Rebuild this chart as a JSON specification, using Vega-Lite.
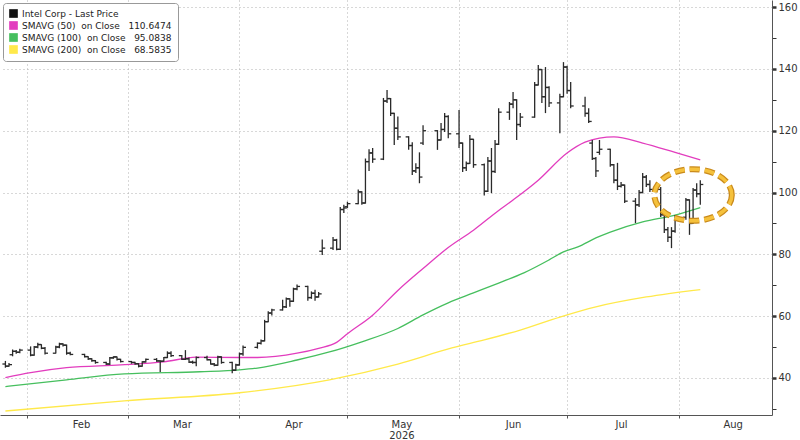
{
  "$schema": "https://vega.github.io/schema/vega-lite/v6.json",
  "description": "Intel Corp daily price bars with 50, 100 and 200 day moving averages, 2026",
  "width": 772,
  "height": 415,
  "autosize": "none",
  "padding": {"left": 0, "top": 0, "right": 28, "bottom": 25},
  "background": "white",
  "config": {
    "view": {"stroke": null},
    "font": "DejaVu Sans"
  },
  "datasets": {
    "ohlc": [
      {"date": "2026-01-26", "open": 44.5, "high": 45.5, "low": 43.3, "close": 43.8},
      {"date": "2026-01-27", "open": 43.8, "high": 44.8, "low": 43.6, "close": 44.3},
      {"date": "2026-01-28", "open": 47.5, "high": 49.2, "low": 47.0, "close": 48.6},
      {"date": "2026-01-29", "open": 48.6, "high": 49.0, "low": 47.8, "close": 48.3},
      {"date": "2026-01-30", "open": 48.3, "high": 49.4, "low": 48.0, "close": 49.0},
      {"date": "2026-02-02", "open": 49.0, "high": 50.2, "low": 47.0, "close": 47.4},
      {"date": "2026-02-03", "open": 47.4, "high": 50.3, "low": 47.2, "close": 50.0},
      {"date": "2026-02-04", "open": 50.0, "high": 51.4, "low": 49.6, "close": 50.8},
      {"date": "2026-02-05", "open": 50.8, "high": 50.9, "low": 49.3, "close": 49.6},
      {"date": "2026-02-06", "open": 49.6, "high": 50.0, "low": 47.6, "close": 48.0},
      {"date": "2026-02-09", "open": 48.0, "high": 50.4, "low": 47.9, "close": 50.0},
      {"date": "2026-02-10", "open": 50.0, "high": 51.4, "low": 49.6, "close": 51.0},
      {"date": "2026-02-11", "open": 51.0, "high": 51.2, "low": 50.2, "close": 50.6},
      {"date": "2026-02-12", "open": 50.6, "high": 50.8, "low": 47.5, "close": 48.0},
      {"date": "2026-02-13", "open": 48.0, "high": 48.5, "low": 47.3, "close": 47.6},
      {"date": "2026-02-17", "open": 47.6, "high": 47.8, "low": 46.6, "close": 46.9},
      {"date": "2026-02-18", "open": 46.9, "high": 47.0, "low": 45.8, "close": 46.2},
      {"date": "2026-02-19", "open": 46.2, "high": 46.4, "low": 45.2, "close": 45.6},
      {"date": "2026-02-20", "open": 45.6, "high": 45.8, "low": 44.6, "close": 45.0},
      {"date": "2026-02-23", "open": 45.0, "high": 45.2, "low": 44.2, "close": 44.5},
      {"date": "2026-02-24", "open": 44.5, "high": 46.8, "low": 44.2, "close": 46.5},
      {"date": "2026-02-25", "open": 46.5, "high": 47.0, "low": 46.2, "close": 46.8},
      {"date": "2026-02-26", "open": 46.8, "high": 46.9, "low": 45.6, "close": 46.0},
      {"date": "2026-02-27", "open": 46.0, "high": 46.2, "low": 45.0, "close": 45.3},
      {"date": "2026-03-02", "open": 45.3, "high": 45.5, "low": 44.6, "close": 45.0},
      {"date": "2026-03-03", "open": 45.0, "high": 45.2, "low": 44.3, "close": 44.6},
      {"date": "2026-03-04", "open": 44.6, "high": 44.8, "low": 43.4, "close": 43.8},
      {"date": "2026-03-05", "open": 43.8, "high": 45.4, "low": 43.6, "close": 45.2},
      {"date": "2026-03-06", "open": 45.2, "high": 46.3, "low": 45.0, "close": 46.0},
      {"date": "2026-03-09", "open": 46.0, "high": 46.4, "low": 45.2, "close": 45.5},
      {"date": "2026-03-10", "open": 45.5, "high": 45.7, "low": 41.9, "close": 45.4},
      {"date": "2026-03-11", "open": 45.4, "high": 46.8, "low": 45.2, "close": 46.6},
      {"date": "2026-03-12", "open": 46.6, "high": 48.6, "low": 46.4, "close": 48.0},
      {"date": "2026-03-13", "open": 48.0, "high": 48.6, "low": 46.8, "close": 47.2},
      {"date": "2026-03-16", "open": 47.2, "high": 47.4, "low": 45.8, "close": 46.0},
      {"date": "2026-03-17", "open": 46.0, "high": 49.0, "low": 45.8, "close": 46.2},
      {"date": "2026-03-18", "open": 46.2, "high": 46.6, "low": 44.8, "close": 45.1},
      {"date": "2026-03-19", "open": 45.1, "high": 45.6, "low": 44.6, "close": 45.0},
      {"date": "2026-03-20", "open": 45.0, "high": 46.9, "low": 43.8, "close": 46.6},
      {"date": "2026-03-23", "open": 46.6, "high": 47.2, "low": 45.6, "close": 45.9},
      {"date": "2026-03-24", "open": 45.9, "high": 46.0, "low": 44.3, "close": 44.5},
      {"date": "2026-03-25", "open": 44.5, "high": 44.8, "low": 43.8, "close": 44.1},
      {"date": "2026-03-26", "open": 44.1, "high": 47.2, "low": 43.9, "close": 46.8},
      {"date": "2026-03-27", "open": 46.8, "high": 47.0, "low": 44.6, "close": 45.0},
      {"date": "2026-03-30", "open": 45.0, "high": 45.2, "low": 41.5, "close": 42.5},
      {"date": "2026-03-31", "open": 42.5, "high": 44.6, "low": 42.3, "close": 44.2},
      {"date": "2026-04-01", "open": 44.2, "high": 48.2, "low": 44.0, "close": 47.8},
      {"date": "2026-04-02", "open": 47.8, "high": 50.5, "low": 47.2, "close": 49.9},
      {"date": "2026-04-06", "open": 49.9, "high": 51.5, "low": 49.5, "close": 51.2},
      {"date": "2026-04-07", "open": 51.2, "high": 52.4, "low": 50.8, "close": 52.0},
      {"date": "2026-04-08", "open": 52.0, "high": 58.8, "low": 51.8, "close": 58.2},
      {"date": "2026-04-09", "open": 58.2, "high": 61.6, "low": 58.0, "close": 61.0},
      {"date": "2026-04-10", "open": 61.0, "high": 62.4, "low": 60.2, "close": 62.0},
      {"date": "2026-04-13", "open": 62.0, "high": 65.3, "low": 61.8, "close": 63.0},
      {"date": "2026-04-14", "open": 63.0, "high": 66.0, "low": 62.6, "close": 65.6},
      {"date": "2026-04-15", "open": 65.6, "high": 65.8, "low": 63.0, "close": 64.8},
      {"date": "2026-04-16", "open": 64.8, "high": 69.2, "low": 64.6, "close": 68.8},
      {"date": "2026-04-17", "open": 68.8, "high": 70.2, "low": 68.4, "close": 69.6},
      {"date": "2026-04-20", "open": 69.6, "high": 69.8, "low": 65.0, "close": 66.0},
      {"date": "2026-04-21", "open": 66.0, "high": 68.0, "low": 65.6, "close": 67.4},
      {"date": "2026-04-22", "open": 67.4, "high": 68.5, "low": 65.0, "close": 66.2},
      {"date": "2026-04-23", "open": 66.2, "high": 67.8, "low": 66.0, "close": 67.2},
      {"date": "2026-04-24", "open": 81.0, "high": 84.8, "low": 79.8, "close": 82.0},
      {"date": "2026-04-27", "open": 82.0, "high": 85.6, "low": 81.4, "close": 84.6},
      {"date": "2026-04-28", "open": 84.6, "high": 85.0, "low": 81.3, "close": 81.6},
      {"date": "2026-04-29", "open": 81.6, "high": 95.3, "low": 81.4, "close": 94.5},
      {"date": "2026-04-30", "open": 94.5, "high": 96.0, "low": 93.4, "close": 95.0},
      {"date": "2026-05-01", "open": 95.4, "high": 97.0, "low": 95.0, "close": 96.4},
      {"date": "2026-05-04", "open": 96.4, "high": 101.0, "low": 96.2, "close": 100.2},
      {"date": "2026-05-05", "open": 100.2, "high": 100.4, "low": 96.0, "close": 96.6},
      {"date": "2026-05-06", "open": 96.6, "high": 111.0, "low": 96.4, "close": 110.0},
      {"date": "2026-05-07", "open": 110.0, "high": 114.0, "low": 107.0, "close": 112.8},
      {"date": "2026-05-08", "open": 112.8, "high": 114.4, "low": 109.6, "close": 110.8},
      {"date": "2026-05-11", "open": 110.8, "high": 130.6, "low": 110.5, "close": 129.6},
      {"date": "2026-05-12", "open": 129.6, "high": 133.2, "low": 129.0, "close": 130.4},
      {"date": "2026-05-13", "open": 130.4, "high": 130.6, "low": 124.8, "close": 125.6},
      {"date": "2026-05-14", "open": 125.6, "high": 125.8, "low": 115.4, "close": 120.8},
      {"date": "2026-05-15", "open": 120.8, "high": 124.6, "low": 117.0, "close": 118.0},
      {"date": "2026-05-18", "open": 118.0, "high": 118.2, "low": 113.8, "close": 115.2},
      {"date": "2026-05-19", "open": 115.2, "high": 116.3, "low": 105.7, "close": 107.0},
      {"date": "2026-05-20", "open": 107.0, "high": 109.5, "low": 106.3, "close": 108.0},
      {"date": "2026-05-21", "open": 108.0, "high": 113.0, "low": 103.0, "close": 105.0},
      {"date": "2026-05-22", "open": 116.0, "high": 121.8, "low": 115.4, "close": 120.0},
      {"date": "2026-05-26", "open": 120.0, "high": 120.2, "low": 113.8, "close": 117.0},
      {"date": "2026-05-27", "open": 117.0, "high": 122.5, "low": 116.8, "close": 120.4},
      {"date": "2026-05-28", "open": 120.4, "high": 125.7, "low": 119.6, "close": 124.6},
      {"date": "2026-05-29", "open": 124.6, "high": 125.0, "low": 117.6, "close": 119.0},
      {"date": "2026-06-01", "open": 119.0, "high": 126.7, "low": 114.4, "close": 116.0},
      {"date": "2026-06-02", "open": 116.0, "high": 116.2, "low": 106.6, "close": 108.0},
      {"date": "2026-06-03", "open": 108.0, "high": 110.0, "low": 107.0, "close": 109.4},
      {"date": "2026-06-04", "open": 109.4, "high": 118.6, "low": 109.2, "close": 117.2},
      {"date": "2026-06-05", "open": 117.2, "high": 117.4, "low": 108.0, "close": 109.0},
      {"date": "2026-06-08", "open": 109.0, "high": 109.4, "low": 99.0, "close": 100.4},
      {"date": "2026-06-09", "open": 100.4, "high": 111.5, "low": 100.2, "close": 110.2},
      {"date": "2026-06-10", "open": 110.2, "high": 114.4, "low": 99.8, "close": 106.8},
      {"date": "2026-06-11", "open": 106.8, "high": 117.0, "low": 106.3, "close": 115.6},
      {"date": "2026-06-12", "open": 115.6, "high": 127.3, "low": 115.4, "close": 126.0},
      {"date": "2026-06-15", "open": 126.0, "high": 129.3, "low": 123.5, "close": 128.6},
      {"date": "2026-06-16", "open": 128.6, "high": 132.5, "low": 127.3, "close": 130.0},
      {"date": "2026-06-17", "open": 130.0, "high": 130.2, "low": 117.0, "close": 122.0},
      {"date": "2026-06-18", "open": 122.0, "high": 125.7, "low": 121.2, "close": 124.4},
      {"date": "2026-06-22", "open": 124.4, "high": 135.8, "low": 124.2, "close": 134.8},
      {"date": "2026-06-23", "open": 134.8, "high": 141.3, "low": 134.6, "close": 139.8},
      {"date": "2026-06-24", "open": 139.8, "high": 140.0, "low": 129.0, "close": 131.0},
      {"date": "2026-06-25", "open": 131.0, "high": 140.6, "low": 125.7, "close": 134.0},
      {"date": "2026-06-26", "open": 134.0, "high": 134.4, "low": 127.7, "close": 129.0},
      {"date": "2026-06-29", "open": 129.0, "high": 132.0, "low": 119.2, "close": 131.0},
      {"date": "2026-06-30", "open": 131.0, "high": 142.2, "low": 130.8, "close": 140.6},
      {"date": "2026-07-01", "open": 140.6, "high": 141.0, "low": 132.0, "close": 133.0},
      {"date": "2026-07-02", "open": 133.0, "high": 135.8, "low": 127.3, "close": 128.0},
      {"date": "2026-07-06", "open": 128.0, "high": 131.0, "low": 124.5, "close": 125.6},
      {"date": "2026-07-07", "open": 125.6, "high": 127.3, "low": 122.5, "close": 123.0},
      {"date": "2026-07-08", "open": 116.0, "high": 117.0, "low": 110.5, "close": 111.0},
      {"date": "2026-07-09", "open": 111.0, "high": 111.5, "low": 105.0, "close": 107.0},
      {"date": "2026-07-10", "open": 113.0, "high": 117.0, "low": 112.2, "close": 114.0},
      {"date": "2026-07-13", "open": 114.0, "high": 114.2, "low": 108.3, "close": 109.0},
      {"date": "2026-07-14", "open": 109.0, "high": 109.2, "low": 103.0, "close": 104.0},
      {"date": "2026-07-15", "open": 104.0, "high": 109.6, "low": 100.8, "close": 102.0},
      {"date": "2026-07-16", "open": 102.0, "high": 103.4, "low": 101.6, "close": 102.4},
      {"date": "2026-07-17", "open": 102.4, "high": 102.6, "low": 96.6, "close": 97.2},
      {"date": "2026-07-20", "open": 97.2, "high": 98.2, "low": 90.1, "close": 96.0},
      {"date": "2026-07-21", "open": 96.0, "high": 100.8, "low": 95.3, "close": 100.0},
      {"date": "2026-07-22", "open": 100.0, "high": 106.3, "low": 99.8, "close": 105.0},
      {"date": "2026-07-23", "open": 105.0, "high": 105.7, "low": 101.8, "close": 102.6},
      {"date": "2026-07-24", "open": 102.6, "high": 104.0, "low": 100.2, "close": 101.0},
      {"date": "2026-07-27", "open": 101.0, "high": 101.8, "low": 92.1, "close": 92.8},
      {"date": "2026-07-28", "open": 92.8, "high": 93.4, "low": 86.9, "close": 88.0},
      {"date": "2026-07-29", "open": 88.0, "high": 88.8, "low": 84.0, "close": 85.5},
      {"date": "2026-07-30", "open": 85.5, "high": 88.8, "low": 82.0, "close": 87.5},
      {"date": "2026-07-31", "open": 87.5, "high": 92.7, "low": 87.0, "close": 92.0},
      {"date": "2026-08-03", "open": 92.0, "high": 98.2, "low": 91.2, "close": 97.6},
      {"date": "2026-08-04", "open": 97.6, "high": 97.8, "low": 86.3, "close": 90.0},
      {"date": "2026-08-05", "open": 90.0, "high": 101.5, "low": 89.8, "close": 100.8},
      {"date": "2026-08-06", "open": 100.8, "high": 103.0, "low": 98.5, "close": 99.6},
      {"date": "2026-08-07", "open": 99.6, "high": 104.0, "low": 96.0, "close": 102.6}
    ],
    "averages": [
      {"date": "2026-01-26", "series": "SMA50", "value": 40.1},
      {"date": "2026-02-02", "series": "SMA50", "value": 41.7},
      {"date": "2026-02-12", "series": "SMA50", "value": 43.3},
      {"date": "2026-02-27", "series": "SMA50", "value": 44.2},
      {"date": "2026-03-11", "series": "SMA50", "value": 45.2},
      {"date": "2026-03-20", "series": "SMA50", "value": 46.7},
      {"date": "2026-04-01", "series": "SMA50", "value": 46.6},
      {"date": "2026-04-06", "series": "SMA50", "value": 46.6},
      {"date": "2026-04-17", "series": "SMA50", "value": 48.0},
      {"date": "2026-04-23", "series": "SMA50", "value": 49.6},
      {"date": "2026-04-28", "series": "SMA50", "value": 51.5},
      {"date": "2026-05-01", "series": "SMA50", "value": 54.3},
      {"date": "2026-05-08", "series": "SMA50", "value": 60.3},
      {"date": "2026-05-15", "series": "SMA50", "value": 68.3},
      {"date": "2026-05-22", "series": "SMA50", "value": 75.4},
      {"date": "2026-05-29", "series": "SMA50", "value": 82.2},
      {"date": "2026-06-05", "series": "SMA50", "value": 87.8},
      {"date": "2026-06-12", "series": "SMA50", "value": 94.2},
      {"date": "2026-06-16", "series": "SMA50", "value": 97.6},
      {"date": "2026-06-23", "series": "SMA50", "value": 104.0},
      {"date": "2026-07-01", "series": "SMA50", "value": 112.8},
      {"date": "2026-07-06", "series": "SMA50", "value": 116.3},
      {"date": "2026-07-10", "series": "SMA50", "value": 117.6},
      {"date": "2026-07-14", "series": "SMA50", "value": 118.0},
      {"date": "2026-07-22", "series": "SMA50", "value": 116.0},
      {"date": "2026-07-31", "series": "SMA50", "value": 113.0},
      {"date": "2026-08-07", "series": "SMA50", "value": 110.6},
      {"date": "2026-01-26", "series": "SMA100", "value": 37.2},
      {"date": "2026-02-12", "series": "SMA100", "value": 39.4},
      {"date": "2026-02-28", "series": "SMA100", "value": 41.3},
      {"date": "2026-03-21", "series": "SMA100", "value": 42.0},
      {"date": "2026-04-01", "series": "SMA100", "value": 42.6},
      {"date": "2026-04-06", "series": "SMA100", "value": 43.2},
      {"date": "2026-04-17", "series": "SMA100", "value": 45.8},
      {"date": "2026-04-26", "series": "SMA100", "value": 48.4},
      {"date": "2026-05-05", "series": "SMA100", "value": 51.7},
      {"date": "2026-05-15", "series": "SMA100", "value": 56.0},
      {"date": "2026-05-22", "series": "SMA100", "value": 60.4},
      {"date": "2026-05-29", "series": "SMA100", "value": 64.3},
      {"date": "2026-06-05", "series": "SMA100", "value": 67.5},
      {"date": "2026-06-12", "series": "SMA100", "value": 70.7},
      {"date": "2026-06-19", "series": "SMA100", "value": 74.0},
      {"date": "2026-06-26", "series": "SMA100", "value": 78.2},
      {"date": "2026-06-30", "series": "SMA100", "value": 80.8},
      {"date": "2026-07-04", "series": "SMA100", "value": 82.4},
      {"date": "2026-07-09", "series": "SMA100", "value": 85.3},
      {"date": "2026-07-13", "series": "SMA100", "value": 87.2},
      {"date": "2026-07-22", "series": "SMA100", "value": 90.5},
      {"date": "2026-07-31", "series": "SMA100", "value": 92.7},
      {"date": "2026-08-07", "series": "SMA100", "value": 95.1},
      {"date": "2026-01-26", "series": "SMA200", "value": 29.3},
      {"date": "2026-02-28", "series": "SMA200", "value": 32.6},
      {"date": "2026-04-01", "series": "SMA200", "value": 35.2},
      {"date": "2026-04-26", "series": "SMA200", "value": 39.4},
      {"date": "2026-05-15", "series": "SMA200", "value": 44.5},
      {"date": "2026-05-30", "series": "SMA200", "value": 49.7},
      {"date": "2026-06-08", "series": "SMA200", "value": 52.3},
      {"date": "2026-06-18", "series": "SMA200", "value": 55.5},
      {"date": "2026-06-29", "series": "SMA200", "value": 59.7},
      {"date": "2026-07-09", "series": "SMA200", "value": 63.0},
      {"date": "2026-07-23", "series": "SMA200", "value": 66.2},
      {"date": "2026-08-07", "series": "SMA200", "value": 68.6}
    ],
    "highlight": [
      {"date": "2026-08-05", "value": 99.2}
    ]
  },
  "encoding": {
    "x": {
      "field": "date",
      "type": "temporal",
      "title": null,
      "scale": {
        "type": "utc",
        "domain": [
          {"year": 2026, "month": 1, "date": 24, "hours": 12, "utc": true},
          {"year": 2026, "month": 8, "date": 26, "hours": 22, "utc": true}
        ],
        "nice": false
      },
      "axis": {
        "values": [
          {"year": 2026, "month": 2, "date": 1, "utc": true},
          {"year": 2026, "month": 3, "date": 1, "utc": true},
          {"year": 2026, "month": 4, "date": 1, "utc": true},
          {"year": 2026, "month": 5, "date": 1, "utc": true},
          {"year": 2026, "month": 6, "date": 1, "utc": true},
          {"year": 2026, "month": 7, "date": 1, "utc": true},
          {"year": 2026, "month": 8, "date": 1, "utc": true}
        ],
        "labelExpr": "utcmonth(datum.value) == 4 ? ['May', '2026'] : utcFormat(datum.value, '%b')",
        "labelOffset": 54,
        "labelPadding": 1,
        "labelFontSize": 10,
        "labelColor": "#333333",
        "labelLineHeight": 11,
        "labelOverlap": false,
        "labelBound": false,
        "labelFlush": false,
        "tickSize": 3,
        "tickColor": "#555555",
        "domainColor": "#555555",
        "grid": true,
        "gridColor": "#b0b0b0",
        "gridDash": [1, 3]
      }
    },
    "y": {
      "type": "quantitative",
      "title": null,
      "scale": {"domain": [28, 162.3], "nice": false, "zero": false},
      "axis": {
        "orient": "right",
        "values": [30, 40, 50, 60, 70, 80, 90, 100, 110, 120, 130, 140, 150, 160],
        "labelExpr": "datum.value % 20 === 0 ? datum.label : ''",
        "labelFontSize": 10,
        "labelColor": "#333333",
        "labelPadding": 2,
        "tickColor": "#333333",
        "tickSize": 4,
        "tickWidth": {"condition": {"test": "datum.value % 20 === 0", "value": 2.5}, "value": 1},
        "domainColor": "#555555",
        "grid": true,
        "gridColor": "#b0b0b0",
        "gridDash": [1, 3],
        "gridOpacity": {"condition": {"test": "datum.value % 20 === 0", "value": 1}, "value": 0}
      }
    }
  },
  "layer": [
    {
      "data": {"name": "averages"},
      "mark": {"type": "line", "strokeWidth": 1.3, "interpolate": "monotone"},
      "encoding": {
        "y": {"field": "value"},
        "color": {
          "field": "series",
          "type": "nominal",
          "scale": {
            "domain": ["Last", "SMA50", "SMA100", "SMA200"],
            "range": ["#111111", "#E23DBE", "#46BF5E", "#FFE94A"]
          },
          "legend": {
            "title": null,
            "orient": "top-left",
            "offset": 3,
            "padding": 6,
            "rowPadding": 2,
            "symbolType": "square",
            "symbolSize": 75,
            "symbolStrokeWidth": 0,
            "labelFontSize": 9,
            "labelColor": "#222222",
            "labelLimit": 300,
            "labelOffset": 4,
            "strokeColor": "#999999",
            "fillColor": "#ffffff",
            "cornerRadius": 3,
            "labelExpr": "datum.value == 'Last' ? 'Intel Corp - Last Price' : datum.value == 'SMA50' ? 'SMAVG (50)\u00a0\u00a0on Close\u00a0\u00a0\u00a0110.6474' : datum.value == 'SMA100' ? 'SMAVG (100)\u00a0\u00a0on Close\u00a0\u00a0\u00a095.0838' : 'SMAVG (200)\u00a0\u00a0on Close\u00a0\u00a0\u00a068.5835'",
            "encode": {
              "symbols": {
                "update": {
                  "fill": {"scale": "color", "field": "value"},
                  "stroke": {"value": "transparent"},
                  "opacity": {"value": 1}
                }
              }
            }
          }
        }
      }
    },
    {
      "data": {"name": "ohlc"},
      "mark": {"type": "rule", "color": "#2a2a2a", "strokeWidth": 1.3},
      "encoding": {
        "y": {"field": "low"},
        "y2": {"field": "high"}
      }
    },
    {
      "data": {"name": "ohlc"},
      "mark": {"type": "tick", "orient": "horizontal", "color": "#2a2a2a", "size": 3, "thickness": 1.3, "xOffset": -1.5, "opacity": 1},
      "encoding": {
        "y": {"field": "open"}
      }
    },
    {
      "data": {"name": "ohlc"},
      "mark": {"type": "tick", "orient": "horizontal", "color": "#2a2a2a", "size": 3, "thickness": 1.3, "xOffset": 1.5, "opacity": 1},
      "encoding": {
        "y": {"field": "close"}
      }
    },
    {
      "data": {"name": "highlight"},
      "mark": {
        "type": "point",
        "shape": "M1,0C1,0.368 0.552,0.667 0,0.667C-0.552,0.667 -1,0.368 -1,0C-1,-0.368 -0.552,-0.667 0,-0.667C0.552,-0.667 1,-0.368 1,0Z",
        "size": 6000,
        "filled": false,
        "stroke": "#C98A1C",
        "strokeWidth": 6,
        "strokeDash": [10, 5],
        "opacity": 1
      },
      "encoding": {
        "y": {"field": "value"}
      }
    },
    {
      "data": {"name": "highlight"},
      "mark": {
        "type": "point",
        "shape": "M1,0C1,0.368 0.552,0.667 0,0.667C-0.552,0.667 -1,0.368 -1,0C-1,-0.368 -0.552,-0.667 0,-0.667C0.552,-0.667 1,-0.368 1,0Z",
        "size": 6000,
        "filled": false,
        "stroke": "#F5C13C",
        "strokeWidth": 3.5,
        "strokeDash": [10, 5],
        "opacity": 1
      },
      "encoding": {
        "y": {"field": "value"}
      }
    }
  ]
}
